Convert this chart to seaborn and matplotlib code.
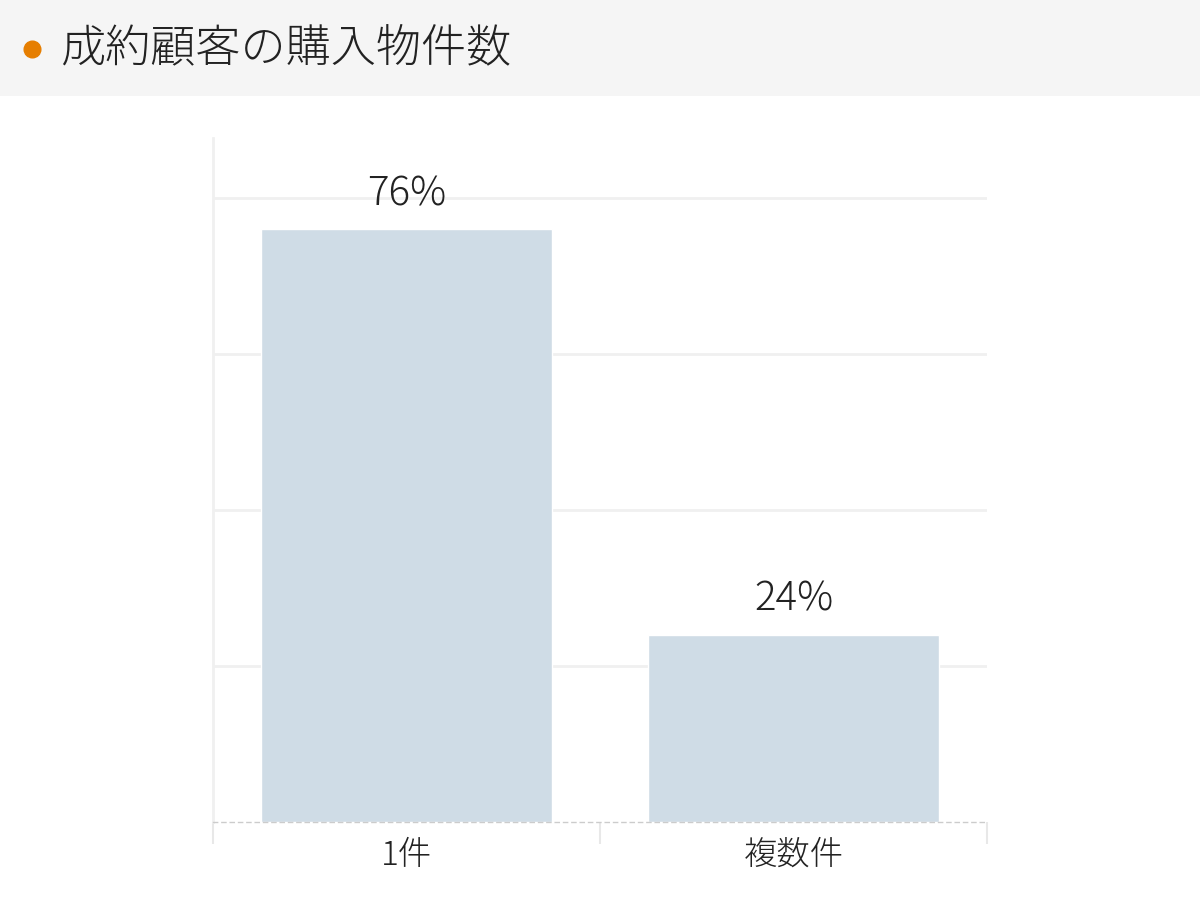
import pandas as pd
import numpy as np
import matplotlib.pyplot as plt
import seaborn as sns
from matplotlib.patches import Rectangle
from matplotlib.lines import Line2D

sns.set_style('white')
plt.rcParams['font.family'] = ['Noto Sans CJK JP', 'DejaVu Sans']

# data
categories = ['1件', '複数件']
shares = [76, 24]
title = '成約顧客の購入物件数'

df = pd.DataFrame({'category': categories, 'share': shares})

fig = plt.figure(figsize=(12, 9), dpi=100)
ax = fig.add_axes([0.1775, 0.0867, 0.645, 0.76])

# title band
fig.add_artist(Rectangle((0, 1 - 96 / 900), 1, 96 / 900, transform=fig.transFigure,
                         facecolor='#f5f5f5', edgecolor='none', zorder=0))
fig.add_artist(Line2D([32 / 1200], [1 - 49 / 900], transform=fig.transFigure,
                      marker='o', markersize=12, color='#e67e00', linestyle='none'))
fig.text(60 / 1200, 1 - 49 / 900, title, fontsize=32.5, color='#222222',
         va='center', ha='left', fontweight='light')

sns.barplot(data=df, x='category', y='share', color='#cfdce6', width=0.75,
            saturation=1, ax=ax, zorder=2)

# value labels
for i, v in enumerate(shares):
    ax.text(i, v + 1.8, f'{v}%', ha='center', va='bottom', fontsize=29,
            color='#222222', fontweight='light')

ax.set_ylim(0, 87.7)
ax.set_xlim(-0.5, 1.5)
ax.set_yticks([20, 40, 60, 80])
ax.set_yticklabels([])
ax.tick_params(axis='y', length=0)
ax.grid(axis='y', color='#f0f0f0', linewidth=2, zorder=0)
ax.set_axisbelow(True)

ax.set_xticks([0, 1])
ax.set_xticklabels(categories, fontsize=24, color='#222222', fontweight='light')
ax.tick_params(axis='x', which='major', length=0, pad=12)
ax.set_xticks([-0.5, 0.5, 1.5], minor=True)
ax.tick_params(axis='x', which='minor', bottom=True, length=16, color='#e8e8e8', width=1.5)

ax.set_xlabel('')
ax.set_ylabel('')
for s in ['top', 'right']:
    ax.spines[s].set_visible(False)
ax.spines['left'].set_color('#f0f0f0')
ax.spines['left'].set_linewidth(2)
ax.spines['bottom'].set_color('#cccccc')
ax.spines['bottom'].set_linestyle((0, (3, 3)))
ax.spines['bottom'].set_linewidth(1)

fig.savefig('out.png', dpi=100)
